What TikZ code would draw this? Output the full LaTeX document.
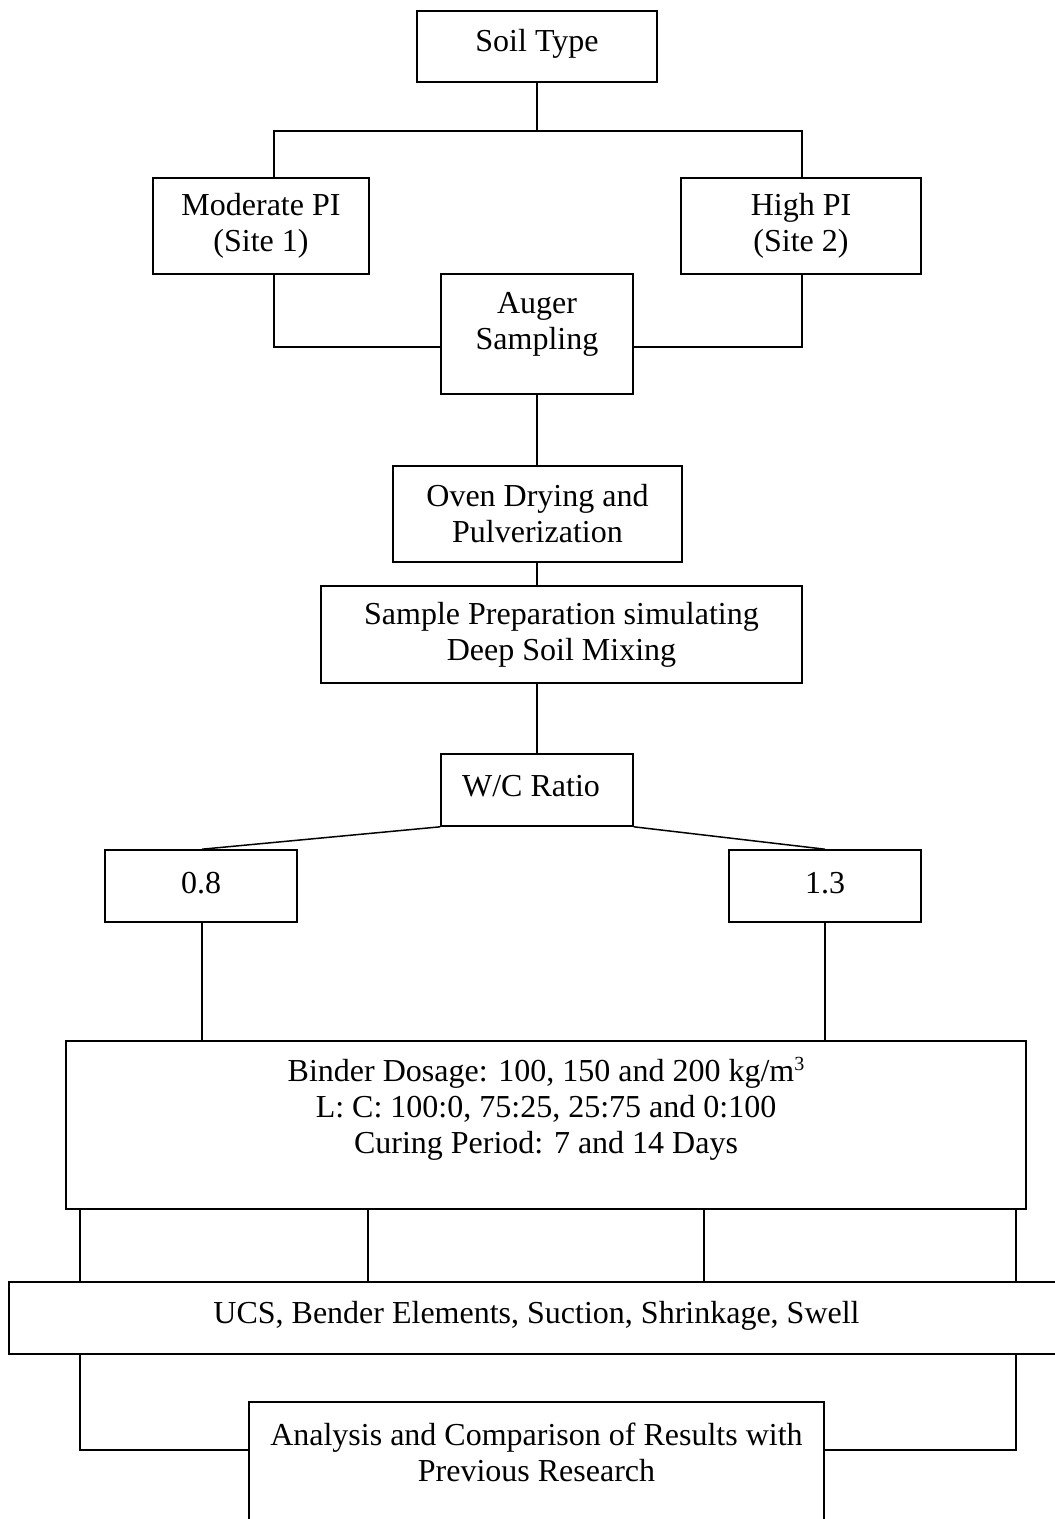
\documentclass[tikz,border=0pt]{standalone}
\usepackage{fontspec}
\setmainfont{Liberation Serif}
\begin{document}
\begin{tikzpicture}[x=1pt,y=-1pt,
  box/.style={draw=black, line width=1.6pt, rectangle, inner sep=0pt, align=center,
    font=\fontsize{32}{36}\selectfont},
  txt/.style={inner sep=0pt, align=center, font=\fontsize{32}{36}\selectfont},
  conn/.style={draw=black, line width=1.5pt}]
\useasboundingbox[fill=white] (0,0) rectangle (1055,1519);

\node[box, minimum width=240pt, minimum height=71pt] (soil) at (537,46.5) {};
\node[txt] (soilT) at (537,44) {Soil Type};
\node[box, minimum width=216pt, minimum height=96pt] (mod) at (261,226) {Moderate PI\\(Site 1)};
\node[box, minimum width=240pt, minimum height=96pt] (high) at (801,226) {High PI\\(Site 2)};
\node[box, minimum width=192pt, minimum height=120pt] (auger) at (537,334) {};
\node[txt] (augerT) at (537,324) {Auger\\Sampling};
\node[box, minimum width=289pt, minimum height=96pt] (oven) at (537.5,514) {Oven Drying and\\Pulverization};
\node[box, minimum width=481pt, minimum height=97pt] (sample) at (561.5,634.5) {Sample Preparation simulating\\Deep Soil Mixing};
\node[box, minimum width=192pt, minimum height=72pt] (wc) at (537,790) {};
\node[txt] (wcT) at (531,786) {W/C Ratio};
\node[box, minimum width=192pt, minimum height=72pt] (v08) at (201,886) {};
\node[txt] (v08T) at (201,883) {0.8};
\node[box, minimum width=192pt, minimum height=72pt] (v13) at (825,886) {};
\node[txt] (v13T) at (825,883) {1.3};
\node[box, minimum width=960pt, minimum height=168pt] (binder) at (546,1125) {};
\node[txt] (binderT) at (546,1109) {Binder Dosage: 100, 150 and 200 kg/m\raisebox{11pt}{\fontsize{20}{20}\selectfont 3}\\L: C: 100:0, 75:25, 25:75 and 0:100\\Curing Period: 7 and 14 Days};
\node[box, minimum width=1055pt, minimum height=72pt] (ucs) at (536.5,1318) {};
\node[txt] (ucsT) at (536.5,1316) {UCS, Bender Elements, Suction, Shrinkage, Swell};
\node[box, minimum width=575pt, minimum height=128pt] (ana) at (536.5,1466) {};
\node[txt] (anaT) at (536.5,1452) {Analysis and Comparison of Results with\\Previous Research};

\coordinate (split) at (537,131);
\draw[conn] (soil.south) -- (split);
\draw[conn] ([xshift=13pt]mod.north) |- (split) -| ([xshift=1pt]high.north);
\draw[conn] ([xshift=13pt]mod.south) |- ([yshift=-13pt]auger.west);
\draw[conn] ([xshift=1pt]high.south) |- ([yshift=-13pt]auger.east);
\draw[conn] (auger.south) -- (auger.south |- oven.north);
\draw[conn] (auger.south |- oven.south) -- (auger.south |- sample.north);
\draw[conn] (wc.north |- sample.south) -- (wc.north);
\draw[conn] (wc.south west) -- ([xshift=1pt]v08.north);
\draw[conn] (wc.south east) -- (v13.north);
\draw[conn] ([xshift=1pt]v08.south) -- ([xshift=1pt]v08.south |- binder.north);
\draw[conn] (v13.south) -- (v13.south |- binder.north);
\foreach \dx in {15,303,639,951}
  \draw[conn] ([xshift=\dx pt]binder.south west) -- ([xshift=\dx pt]binder.south west |- ucs.north);
\draw[conn] ([xshift=72pt]ucs.south west) |- ([yshift=16pt]ana.west);
\draw[conn] ([xshift=1008pt]ucs.south west) |- ([yshift=16pt]ana.east);
\end{tikzpicture}
\end{document}
